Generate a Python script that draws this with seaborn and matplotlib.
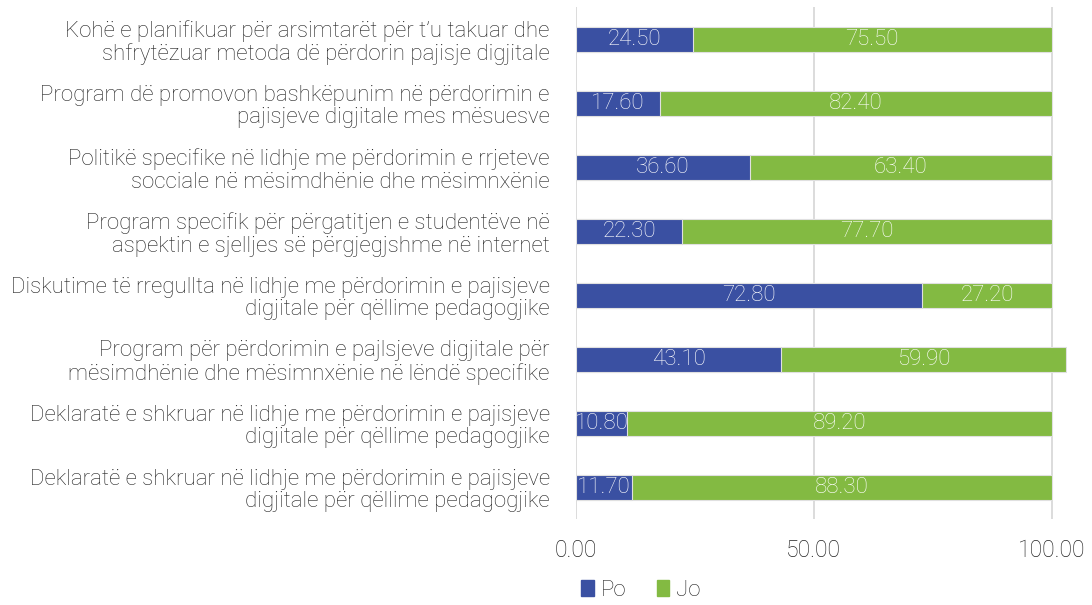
import numpy as np
import pandas as pd
import matplotlib
matplotlib.use('Agg')
import matplotlib.pyplot as plt
import seaborn as sns
from matplotlib.patches import Patch

sns.set_style('white')
plt.rcParams['font.family'] = ['Roboto', 'DejaVu Sans']
plt.rcParams['font.weight'] = 'light'

# Dados
categorias = [
    "Kohë e planifikuar për arsimtarët për t\u2019u takuar dhe\nshfrytëzuar metoda dë përdorin pajisje digjitale",
    "Program dë promovon bashkëpunim në përdorimin e\npajisjeve digjitale mes mësuesve",
    "Politikë specifike në lidhje me përdorimin e rrjeteve\nsocciale në mësimdhënie dhe mësimnxënie",
    "Program specifik për përgatitjen e studentëve në\naspektin e sjelljes së përgjegjshme në internet",
    "Diskutime të rregullta në lidhje me përdorimin e pajisjeve\ndigjitale për qëllime pedagogjike",
    "Program për përdorimin e pajlsjeve digjitale për\nmësimdhënie dhe mësimnxënie në lëndë specifike",
    "Deklaratë e shkruar në lidhje me përdorimin e pajisjeve\ndigjitale për qëllime pedagogjike",
    "Deklaratë e shkruar në lidhje me përdorimin e pajisjeve\ndigjitale për qëllime pedagogjike",
]
po = [24.5, 17.6, 36.6, 22.3, 72.8, 43.1, 10.8, 11.7]
jo = [75.5, 82.4, 63.4, 77.7, 27.2, 59.9, 89.2, 88.3]

cor_po = '#3A50A2'
cor_jo = '#83BA42'

# chave unica por linha (as duas ultimas categorias tem o mesmo texto)
df = pd.DataFrame({'id': [f"c{i}" for i in range(len(categorias))],
                   'Po': po, 'Jo': jo})
df['total'] = df['Po'] + df['Jo']

fig = plt.figure(figsize=(10.92, 6.05), dpi=100)
ax = fig.add_axes([0.5275, 0.142, 0.4496, 0.846])

# barras empilhadas: total (verde) e Po por cima (azul)
sns.barplot(data=df, y='id', x='total', color=cor_jo, width=0.39,
            edgecolor='#E0E0E0', linewidth=0.8, ax=ax, saturation=1)
sns.barplot(data=df, y='id', x='Po', color=cor_po, width=0.39,
            edgecolor='#E0E0E0', linewidth=0.8, ax=ax, saturation=1)

# rotulos
for i, row in df.iterrows():
    ax.text(row['Po'] / 2, i, f"{row['Po']:.2f}", ha='center', va='center',
            color='white', fontsize=16, fontweight='light')
    ax.text(row['Po'] + row['Jo'] / 2, i, f"{row['Jo']:.2f}", ha='center',
            va='center', color='white', fontsize=16, fontweight='light')

ax.set_xlim(0, 103.2)
ax.set_xticks([0, 50, 100])
ax.set_xticklabels([f"{v:.2f}" for v in [0, 50, 100]])
ax.set_yticks(range(len(categorias)))
ax.set_yticklabels(categorias)
ax.set_xlabel('')
ax.set_ylabel('')
ax.xaxis.grid(True, color='#D9D9D9', linewidth=1.3)
ax.set_axisbelow(True)
for s in ax.spines.values():
    s.set_visible(False)
ax.tick_params(axis='x', length=0, pad=14, labelsize=16.5, colors='#222222')
ax.tick_params(axis='y', length=0, pad=19, labelsize=16, colors='#222222')
for t in ax.get_yticklabels():
    t.set_linespacing(1.1)
    t.set_ha('right')

handles = [Patch(color=cor_po, label='Po'), Patch(color=cor_jo, label='Jo')]
fig.legend(handles=handles, loc='center', bbox_to_anchor=(0.587, 0.024), ncol=2,
           frameon=False, fontsize=16, handlelength=0.55, handleheight=0.75,
           handletextpad=0.3, columnspacing=1.4)

plt.savefig('out.png', dpi=100)
